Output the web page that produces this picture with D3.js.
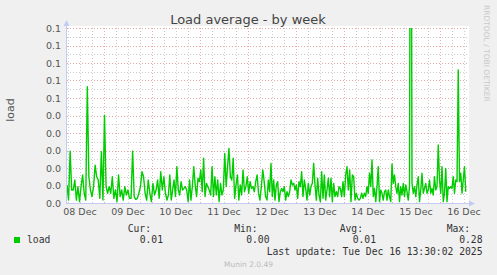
<!DOCTYPE html>
<html><head><meta charset="utf-8">
<script src="https://cdn.jsdelivr.net/npm/d3@7/dist/d3.min.js"></script>
<style>html,body{margin:0;padding:0;background:#f0f0f0;overflow:hidden;} svg{display:block;}</style>
</head><body>
<svg id="chart" width="497" height="275"></svg>
<script>
// ---- data ----
const titleText = "Load average - by week";
const yAxisLabel = "load";
const sideText = "RRDTOOL / TOBI OETIKER";
const footerText = "Munin 2.0.49";
const startTime = Date.UTC(2025, 11, 8, 5, 30);
const endTime = Date.UTC(2025, 11, 16, 13, 30);
const blockHours = 50;
const yMax = 0.09;
const yTickValues = [0, 0.009, 0.018, 0.027, 0.036, 0.045, 0.054, 0.063, 0.072, 0.081, 0.09];
const loadBlock1 = [0.0093,0.0015,0.0267,0.0067,0.0067,0.0118,0.0015,0.0084,0.0007,0.0084,
  0.0144,0.0050,0.0015,0.0598,0.0135,0.0067,0.0033,0.0084,0.0195,0.0135,
  0.0118,0.0024,0.0264,0.0015,0.0452,0.0084,0.0050,0.0084,0.0050,0.0135,
  0.0024,0.0067,0.0007,0.0144,0.0033,0.0067,0.0015,0.0084,0.0041,0.0067,
  0.0024,0.0024,0.0267,0.0033,0.0019,0.0024,0.0050,0.0084,0.0161,0.0135,
  0.0050,0.0015,0.0118,0.0050,0.0007,0.0101,0.0041,0.0067,0.0118,0.0024,
  0.0161,0.0067,0.0135,0.0050];
const loadBlock2 = [0.0015,0.0041,0.0144,0.0015,0.0067,0.0118,0.0033,0.0187,0.0067,0.0041,
  0.0110,0.0067,0.0075,0.0084,0.0067,0.0007,0.0118,0.0015,0.0084,0.0187,
  0.0093,0.0033,0.0127,0.0110,0.0170,0.0058,0.0230,0.0033,0.0101,0.0084,
  0.0067,0.0041,0.0187,0.0033,0.0135,0.0041,0.0118,0.0007,0.0101,0.0041,
  0.0067,0.0255,0.0084,0.0187,0.0281,0.0135,0.0118,0.0230,0.0024,0.0093,
  0.0144,0.0015,0.0093,0.0041,0.0170,0.0058,0.0084,0.0135,0.0050,0.0110,
  0.0075,0.0084,0.0058,0.0110,0.0144,0.0050,0.0015,0.0084,0.0170,0.0110,
  0.0033];
const loadBlock3 = [0.0015,0.0118,0.0058,0.0204,0.0033,0.0118,0.0015,0.0093,0.0110,0.0007,
  0.0058,0.0075,0.0058,0.0084,0.0015,0.0058,0.0033,0.0058,0.0118,0.0093,
  0.0101,0.0067,0.0093,0.0024,0.0110,0.0084,0.0161,0.0033,0.0118,0.0075,
  0.0015,0.0101,0.0041,0.0084,0.0101,0.0204,0.0093,0.0015,0.0127,0.0041,
  0.0007,0.0161,0.0024,0.0144,0.0015,0.0067,0.0127,0.0033,0.0127,0.0007,
  0.0101,0.0033,0.0058,0.0033,0.0084,0.0075,0.0033,0.0110,0.0033,0.0144,
  0.0187,0.0067,0.0170,0.0007,0.0144,0.0135,0.0015,0.0050,0.0024,0.0015,
  0.0024,0.0050,0.0024,0.0050,0.0033];
const loadBlock4 = [0.0084,0.0050,0.0153,0.0084,0.0221,0.0033,0.0075,0.0007,0.0084,0.0187,
  0.0007,0.0067,0.0050,0.0015,0.0058,0.0067,0.0015,0.0067,0.0033,0.0007,
  0.0201,0.0101,0.0144,0.0084,0.0050,0.0101,0.0007,0.0084,0.0041,0.0101,
  0.0033,0.0093,0.0058,0.0015,0.0084,0.28,0.0101,0.0050,0.0084,0.0033,
  0.0093,0.0135,0.0007,0.0067,0.0153,0.0050,0.0075,0.0101,0.0050,0.0067,
  0.0118,0.0050,0.0075,0.0041,0.0135,0.0067,0.0084,0.0298,0.0118,0.0050,
  0.0187,0.0007,0.0050,0.0178,0.0007,0.0084,0.0075,0.0084,0.0075,0.0135,
  0.0050,0.0118,0.0110,0.0684,0.0110,0.0153,0.0050,0.0118,0.0187,0.0058];
const legendSeries = "load";
const legendHeads = ["Cur:", "Min:", "Avg:", "Max:"];
const legendValues = ["0.01", "0.00", "0.01", "0.28"];
const lastUpdateText = "Last update: Tue Dec 16 13:30:02 2025";

// ---- build series ----
const blocks = [loadBlock1, loadBlock2, loadBlock3, loadBlock4];
const HOUR = 3600 * 1000;
const series = [];
blocks.forEach((blk, k) => {
  blk.forEach((v, i) => {
    series.push({t: new Date(startTime + (k * blockHours + i * blockHours / blk.length) * HOUR), v});
  });
});

// ---- layout ----
const L = 67, R = 467, T = 28, B = 203;
const svg = d3.select("#chart");
const sans = "DejaVu Sans, sans-serif";
const mono = "DejaVu Sans Mono, monospace";

const x = d3.scaleUtc().domain([new Date(startTime), new Date(endTime)]).range([L, R]);
const y = d3.scaleLinear().domain([0, yMax]).range([B, T]);

svg.append("rect").attr("x", 0).attr("y", 0).attr("width", 497).attr("height", 275).attr("fill", "#f0f0f0");
svg.append("rect").attr("x", L).attr("y", T - 2).attr("width", R - L + 2).attr("height", B - T + 2).attr("fill", "#ffffff");

const grid = svg.append("g").attr("shape-rendering", "crispEdges");
const step = yTickValues[1] - yTickValues[0];
yTickValues.slice(0, -1).forEach(v => {
  const yy = Math.round(y(v + step / 2)) + 0.5;
  grid.append("line").attr("x1", L).attr("x2", R).attr("y1", yy).attr("y2", yy)
    .attr("stroke", "#cccccc").attr("stroke-dasharray", "1,2");
});
const minorV = d3.utcHour.every(6).range(new Date(startTime), new Date(endTime)).filter(d => d.getUTCHours() !== 0);
minorV.forEach(d => {
  const xx = Math.round(x(d)) + 0.5;
  grid.append("line").attr("x1", xx).attr("x2", xx).attr("y1", T).attr("y2", B)
    .attr("stroke", "#cccccc").attr("stroke-dasharray", "1,2");
});
yTickValues.slice(1).forEach(v => {
  const yy = Math.round(y(v)) + 0.5;
  grid.append("line").attr("x1", L).attr("x2", R).attr("y1", yy).attr("y2", yy)
    .attr("stroke", "#e8a8a8").attr("stroke-dasharray", "1,2");
});
const days = d3.utcDay.range(new Date(startTime), new Date(endTime));
days.forEach(d => {
  const xx = Math.round(x(d)) + 0.5;
  grid.append("line").attr("x1", xx).attr("x2", xx).attr("y1", T).attr("y2", B)
    .attr("stroke", "#e8a8a8").attr("stroke-dasharray", "1,2");
});

// data line
svg.append("clipPath").attr("id", "clip").append("rect").attr("x", L).attr("y", T).attr("width", R - L).attr("height", B - T);
const line = d3.line().x(d => x(d.t)).y(d => y(d.v));
svg.append("path").datum(series).attr("clip-path", "url(#clip)").attr("d", line)
  .attr("fill", "none").attr("stroke", "#00cc00").attr("stroke-width", 1.4).attr("stroke-linejoin", "round");

// axes
const axisColor = "#c4cbf2";
svg.append("line").attr("x1", L - 0.5).attr("x2", L - 0.5).attr("y1", B + 1).attr("y2", 24).attr("stroke", axisColor);
svg.append("path").attr("d", `M${L - 3.5},26 L${L + 2.5},26 L${L - 0.5},20 Z`).attr("fill", axisColor);
svg.append("line").attr("x1", L - 1).attr("x2", 471).attr("y1", B + 0.5).attr("y2", B + 0.5).attr("stroke", axisColor);
svg.append("path").attr("d", `M469,${B - 2.5} L469,${B + 3.5} L475,${B + 0.5} Z`).attr("fill", axisColor);

// y tick labels
const fmt = d3.format(".1f");
svg.append("g").selectAll("text").data(yTickValues).join("text")
  .attr("x", 61).attr("y", d => y(d) + 3.5).attr("text-anchor", "end")
  .attr("font-family", sans).attr("font-size", 9.5).attr("fill", "#555")
  .text(d => fmt(d));

// x labels at noon
const dayLabels = d3.utcDay.range(d3.utcDay.floor(new Date(startTime)), new Date(endTime)).map(d => d3.utcHour.offset(d, 12));
const dfmt = d3.utcFormat("%d %b");
svg.append("g").selectAll("text").data(dayLabels).join("text")
  .attr("x", d => x(d)).attr("y", 215).attr("text-anchor", "middle")
  .attr("font-family", sans).attr("font-size", 9.5).attr("fill", "#555")
  .text(d => dfmt(d));

// title
svg.append("text").attr("x", 248).attr("y", 24).attr("text-anchor", "middle")
  .attr("font-family", sans).attr("font-size", 13).attr("fill", "#444").text(titleText);

// y axis label
svg.append("text").attr("transform", "translate(14,110) rotate(-90)").attr("text-anchor", "middle")
  .attr("font-family", sans).attr("font-size", 11).attr("fill", "#555").text(yAxisLabel);

// side text
svg.append("text").attr("transform", "translate(484,5) rotate(90)").attr("text-anchor", "start")
  .attr("font-family", sans).attr("font-size", 7.5).attr("fill", "#c8c8c8").text(sideText);

// legend
svg.append("rect").attr("x", 14).attr("y", 237).attr("width", 6).attr("height", 6).attr("fill", "#00cc00");
svg.append("text").attr("x", 27).attr("y", 243).attr("font-family", mono).attr("font-size", 9.7).attr("fill", "#333").text(legendSeries);
const headRight = [151, 257.5, 363, 470];
const valRight = [163, 269.5, 376, 482.5];
legendHeads.forEach((h, i) => {
  svg.append("text").attr("x", headRight[i]).attr("y", 231.5).attr("text-anchor", "end")
    .attr("font-family", mono).attr("font-size", 9.7).attr("fill", "#333").text(h);
});
legendValues.forEach((v, i) => {
  svg.append("text").attr("x", valRight[i]).attr("y", 243).attr("text-anchor", "end")
    .attr("font-family", mono).attr("font-size", 9.7).attr("fill", "#333").text(v);
});
svg.append("text").attr("x", 482.5).attr("y", 254.5).attr("text-anchor", "end")
  .attr("font-family", mono).attr("font-size", 9.7).attr("fill", "#333").text(lastUpdateText);
svg.append("text").attr("x", 248.5).attr("y", 267).attr("text-anchor", "middle")
  .attr("font-family", sans).attr("font-size", 7.5).attr("fill", "#bbb").text(footerText);
</script>
</body></html>
